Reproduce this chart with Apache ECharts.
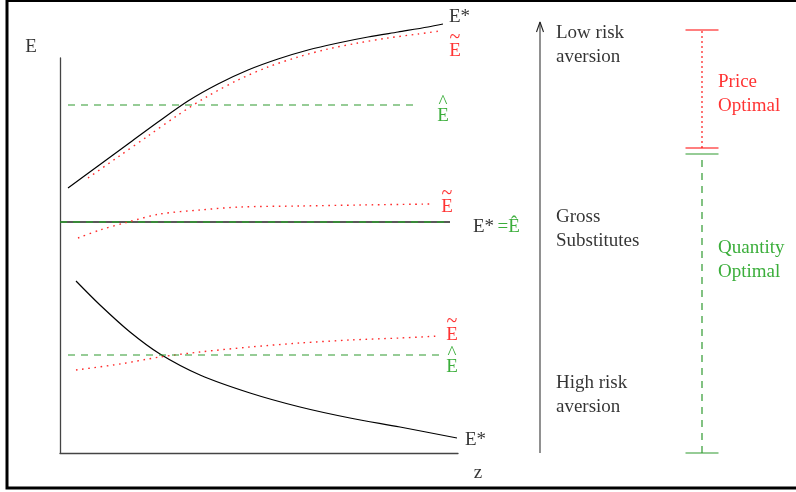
<!DOCTYPE html>
<html>
<head>
<meta charset="utf-8">
<script src="https://cdn.jsdelivr.net/npm/echarts@6/dist/echarts.min.js"></script>
<style>html,body{margin:0;padding:0;background:#fff}#c{width:796px;height:492px}</style>
</head>
<body>
<div id="c"></div>
<script>
// ---- Data (z on x, E on y; y measured up from the z axis) ----
const topEstar   = [[8,265],[38,287],[68,309],[98,331],[128,352],[158,369],[188,383],[218,394],[248,403],[278,410],[308,416],[338,421],[368,426],[383,429]];
const topEtilde  = [[28,275],[58,296],[88,317],[118,338],[148,357],[178,373],[208,386],[238,396],[268,404],[298,410],[328,415],[358,419],[380,422]];
const topEhat    = [[8,348],[358,348]];
const midEtilde  = [[18,215],[40,223],[68,231],[100,239],[140,243],[180,246],[240,247],[300,248],[372,249]];
const midEstar   = [[0,231],[390,231]];
const midEhat    = [[0,231],[390,231]];
const botEstar   = [[16,172],[40,148],[70,121],[100,99],[140,78],[190,60],[240,46],[290,35],[340,26],[397,15]];
const botEtilde  = [[16,83],[60,89],[100,96],[140,101],[190,106],[240,110],[290,113],[340,115],[380,117]];
const botEhat    = [[8,98],[380,98]];

// Right panel: risk-aversion arrow and optimal-instrument ranges
const arrowX = 40, arrowRange = [0, 431];
const rangeX = 202, tickHalf = 16.5;
const priceOptimalRange = [305, 423];
const quantityOptimalRange = [0, 299];

// Text labels
const curveLabels = [
  {x:389, y:436, text:'E*', color:'#000', left:true},
  {x:395, y:406, accent:'~', color:'#ff0000'},
  {x:383, y:340.5, accent:'^', color:'#0a9a0a'},
  {x:387, y:250, accent:'~', color:'#ff0000'},
  {x:392, y:122, accent:'~', color:'#ff0000'},
  {x:392, y:89.5, accent:'^', color:'#0a9a0a'},
  {x:405, y:13,  text:'E*', color:'#000', left:true},
  {x:-29, y:406, text:'E', color:'#000'},
  {x:418, y:-20, text:'z', color:'#000'}
];
const eqLabel = {x:413, y:226};
const panelLabels = [
  {x:56,  y:408, text:'Low risk\naversion', color:'#000'},
  {x:56,  y:224, text:'Gross\nSubstitutes', color:'#000'},
  {x:56,  y:58,  text:'High risk\naversion', color:'#000'},
  {x:218, y:359, text:'Price\nOptimal', color:'#ff0000'},
  {x:218, y:193, text:'Quantity\nOptimal', color:'#0a9a0a'}
];

const FONT = '"Liberation Serif","Times New Roman",serif';
const FS = 19;
const RED = '#ff2a2a', GREEN = '#2f9a2f', BLACK = '#000';

function curve(data, color, type, width, smooth, g) {
  return {type:'line', xAxisIndex:g||0, yAxisIndex:g||0, data:data, symbol:'none', smooth:smooth?0.3:false,
    clip:false, silent:true, lineStyle:{color:color, width:width, type:type}, z: 3};
}
function textSeries(items, g) {
  return {type:'scatter', xAxisIndex:g, yAxisIndex:g, clip:false, silent:true, symbolSize:0,
    itemStyle:{color:'rgba(0,0,0,0)'},
    data: items.map(d => {
      const leftAl = d.left || g === 1;
      const lab = {show:true, position:leftAl?'right':'inside', distance:0,
        color:d.color, fontFamily:FONT, fontSize:FS, lineHeight:24, align:leftAl?'left':'center', verticalAlign:'middle'};
      if (d.accent) {
        lab.formatter = '{a|' + d.accent + '}\n{b|E}';
        lab.rich = {
          a:{color:d.color, fontFamily:FONT, fontSize:d.accent==='~'?20:19, lineHeight:8, align:'center'},
          b:{color:d.color, fontFamily:FONT, fontSize:FS, lineHeight:19, align:'center'}
        };
      } else {
        lab.formatter = d.text;
      }
      return {value:[d.x, d.y], label:lab};
    }),
    z:5};
}

const series = [
  curve(topEstar, BLACK, 'solid', 1.2, true),
  curve(topEtilde, RED, [1.6,4.6], 1.4, true),
  curve(topEhat, GREEN, [7,6], 1.1, false),
  curve(midEstar, '#222', 'solid', 1.6, false),
  curve(midEhat, GREEN, [7,6], 1.4, false),
  curve(midEtilde, RED, [1.6,4.6], 1.4, true),
  curve(botEstar, BLACK, 'solid', 1.2, true),
  curve(botEtilde, RED, [1.6,4.6], 1.4, true),
  curve(botEhat, GREEN, [7,6], 1.1, false),
  // right panel arrow
  curve([[arrowX, arrowRange[0]],[arrowX, arrowRange[1]]], '#555', 'solid', 1.3, false, 1),
  curve([[arrowX-3.5, arrowRange[1]-10],[arrowX, arrowRange[1]],[arrowX+3.5, arrowRange[1]-10]], '#222', 'solid', 1.1, false, 1),
  // price optimal range
  curve([[rangeX, priceOptimalRange[0]],[rangeX, priceOptimalRange[1]]], RED, [2,3], 1.3, false, 1),
  curve([[rangeX-tickHalf, priceOptimalRange[1]],[rangeX+tickHalf, priceOptimalRange[1]]], '#ff0000', 'solid', 1.2, false, 1),
  curve([[rangeX-tickHalf, priceOptimalRange[0]],[rangeX+tickHalf, priceOptimalRange[0]]], '#ff0000', 'solid', 1.2, false, 1),
  // quantity optimal range
  curve([[rangeX, quantityOptimalRange[0]],[rangeX, quantityOptimalRange[1]]], GREEN, [7,6], 1.2, false, 1),
  curve([[rangeX-tickHalf, quantityOptimalRange[1]],[rangeX+tickHalf, quantityOptimalRange[1]]], GREEN, 'solid', 1.2, false, 1),
  curve([[rangeX-tickHalf, quantityOptimalRange[0]],[rangeX+tickHalf, quantityOptimalRange[0]]], GREEN, 'solid', 1.2, false, 1),
  textSeries(curveLabels, 0),
  textSeries(panelLabels, 1),
  {type:'scatter', xAxisIndex:0, yAxisIndex:0, clip:false, silent:true, symbolSize:0, itemStyle:{color:'rgba(0,0,0,0)'},
    data:[{value:[eqLabel.x, eqLabel.y], label:{show:true, position:'right', distance:0, formatter:'{k|E*} {g|=Ê}',
      rich:{k:{color:'#000', fontFamily:FONT, fontSize:FS}, g:{color:'#0a9a0a', fontFamily:FONT, fontSize:FS}}}}], z:5}
];

const chart = echarts.init(document.getElementById('c'), null, {renderer:'canvas'});
chart.setOption({
  animation:false,
  backgroundColor:'#fff',
  grid:[
    {left:60, top:58, width:398, height:395},
    {left:500, top:58, width:296, height:395}
  ],
  xAxis:[
    {type:'value', gridIndex:0, min:0, max:398, axisLine:{show:true, onZero:false, lineStyle:{color:'#444', width:1.3}}, axisTick:{show:false}, axisLabel:{show:false}, splitLine:{show:false}},
    {type:'value', gridIndex:1, min:0, max:296, show:false}
  ],
  yAxis:[
    {type:'value', gridIndex:0, min:0, max:395, axisLine:{show:true, onZero:false, lineStyle:{color:'#444', width:1.3}}, axisTick:{show:false}, axisLabel:{show:false}, splitLine:{show:false}},
    {type:'value', gridIndex:1, min:0, max:395, show:false}
  ],
  graphic:[{type:'rect', shape:{x:7, y:0.5, width:800, height:487.5}, style:{fill:'none', stroke:'#000', lineWidth:3}, silent:true}],
  series:series
});
</script>
</body>
</html>
